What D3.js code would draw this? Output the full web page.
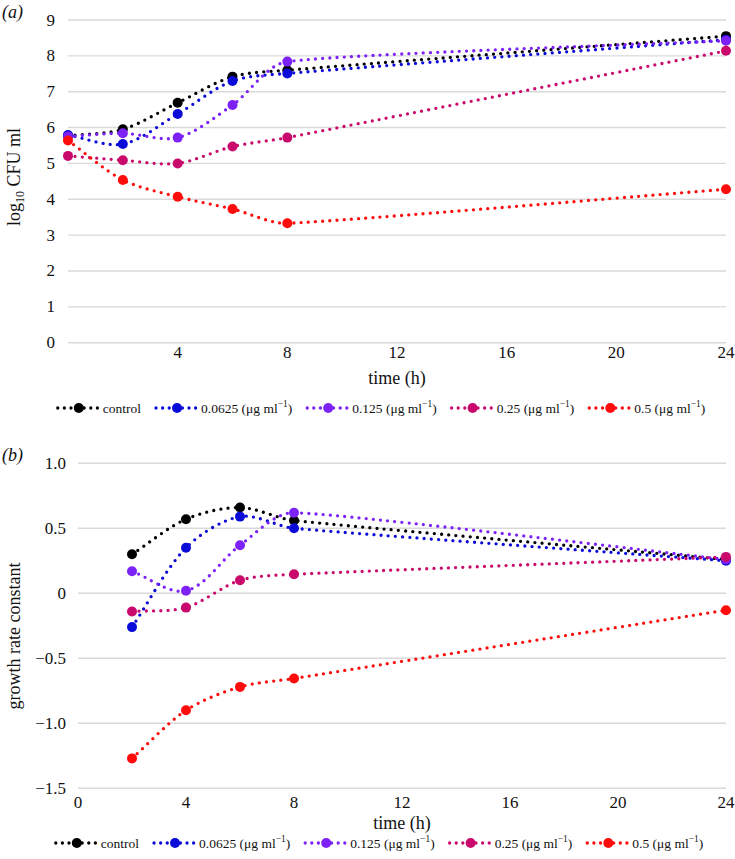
<!DOCTYPE html>
<html><head><meta charset="utf-8">
<script src="https://cdn.jsdelivr.net/npm/d3@7"></script>
<style>body{margin:0;background:#fff}</style>
</head><body><svg id="c" width="735" height="859" font-family="'Liberation Serif', 'DejaVu Serif', serif"></svg>
<script>
// ---------- data ----------
const seriesLabels = ["control", "0.0625", "0.125", "0.25", "0.5"];
const seriesColors = ["#000000", "#0b0bd9", "#7d22f7", "#c90a6c", "#ff0b0b"];

const timesA = [0, 2, 4, 6, 8, 24];
const controlA = [5.77, 5.95, 6.69, 7.42, 7.60, 8.55];
const c0625A   = [5.79, 5.54, 6.38, 7.30, 7.51, 8.45];
const c125A    = [5.75, 5.84, 5.72, 6.63, 7.84, 8.42];
const c25A     = [5.21, 5.09, 5.00, 5.47, 5.72, 8.14];
const c5A      = [5.64, 4.54, 4.07, 3.73, 3.33, 4.28];

const timesB = [2, 4, 6, 8, 24];
const controlB = [0.30, 0.57, 0.66, 0.56, 0.26];
const c0625B   = [-0.26, 0.35, 0.59, 0.50, 0.25];
const c125B    = [0.17, 0.02, 0.37, 0.62, 0.26];
const c25B     = [-0.14, -0.11, 0.10, 0.146, 0.28];
const c5B      = [-1.27, -0.90, -0.72, -0.655, -0.13];

const xTicksA = [4, 8, 12, 16, 20, 24];
const yTicksA = [0, 1, 2, 3, 4, 5, 6, 7, 8, 9];
const xTicksB = [0, 4, 8, 12, 16, 20, 24];
const yTicksB = [1.0, 0.5, 0, -0.5, -1.0, -1.5];
const yTickLabelsB = ["1.0", "0.5", "0", "\u22120.5", "\u22121.0", "\u22121.5"];

const seriesA = [controlA, c0625A, c125A, c25A, c5A];
const seriesB = [controlB, c0625B, c125B, c25B, c5B];

// ---------- drawing ----------
const svg = d3.select("#c");
const DASH = "0 7.2", SW = 3.3, R = 5;

// smooth spreadsheet-style curve through pixel points
function smoothPath(p) {
  const path = d3.path();
  const n = p.length;
  const unit = (a, b) => { const dx = b[0] - a[0], dy = b[1] - a[1], l = Math.hypot(dx, dy) || 1; return [dx / l, dy / l]; };
  const tang = p.map((q, i) => unit(p[Math.max(0, i - 1)], p[Math.min(n - 1, i + 1)]));
  path.moveTo(p[0][0], p[0][1]);
  for (let i = 0; i < n - 1; i++) {
    const a = p[i], b = p[i + 1];
    const d = Math.min(Math.hypot(b[0] - a[0], b[1] - a[1]) * 0.3, 60);
    path.bezierCurveTo(a[0] + tang[i][0] * d, a[1] + tang[i][1] * d,
                       b[0] - tang[i + 1][0] * d, b[1] - tang[i + 1][1] * d, b[0], b[1]);
  }
  return path.toString();
}

function panel(o) {
  const g = svg.append("g").attr("fill", "#111");
  const x = d3.scaleLinear().domain([0, 24]).range([o.x0, o.x1]);
  const y = d3.scaleLinear().domain(o.yDomain).range([o.yBottom, o.yTop]);
  g.selectAll(".grid").data(o.yTicks).join("line")
    .attr("x1", o.x0).attr("x2", o.x1)
    .attr("y1", d => y(d)).attr("y2", d => y(d))
    .attr("stroke", "#d9d9d9").attr("stroke-width", 1.4);
  g.selectAll(".yl").data(o.yTicks).join("text")
    .attr("x", o.yLabelX).attr("y", d => y(d) + 5.5)
    .attr("text-anchor", "end").attr("font-size", 17)
    .text((d, i) => o.yLabels ? o.yLabels[i] : d);
  g.selectAll(".xl").data(o.xTicks).join("text")
    .attr("x", d => x(d)).attr("y", o.xLabelY)
    .attr("text-anchor", "middle").attr("font-size", 17)
    .text(d => d);
  g.append("text").attr("x", x(12)).attr("y", o.xTitleY)
    .attr("text-anchor", "middle").attr("font-size", 18).text("time (h)");
  o.series.forEach((vals, i) => {
    const pts = o.times.map((t, j) => [t, vals[j]]);
    g.append("path").attr("d", smoothPath(pts.map(d => [x(d[0]), y(d[1])]))).attr("fill", "none")
      .attr("stroke", seriesColors[i]).attr("stroke-width", SW)
      .attr("stroke-dasharray", DASH).attr("stroke-linecap", "round");
    g.selectAll(null).data(pts).join("circle")
      .attr("cx", d => x(d[0])).attr("cy", d => y(d[1])).attr("r", R)
      .attr("fill", seriesColors[i]);
  });
  const lg = g.append("g");
  let cx = 0;
  seriesLabels.forEach((lab, i) => {
    const it = lg.append("g").attr("transform", `translate(${cx},0)`);
    it.append("line").attr("x1", 1).attr("x2", 41).attr("y1", 0).attr("y2", 0)
      .attr("stroke", seriesColors[i]).attr("stroke-width", SW)
      .attr("stroke-dasharray", "0 6.6").attr("stroke-linecap", "round");
    it.append("circle").attr("cx", 22).attr("cy", 0).attr("r", R).attr("fill", seriesColors[i]);
    const t = it.append("text").attr("x", 46).attr("y", 5).attr("font-size", o.legendFont);
    t.append("tspan").text(i === 0 ? lab : lab + " (\u03bcg ml");
    if (i > 0) {
      t.append("tspan").attr("font-size", o.legendFont * 0.7).attr("dy", -6).text("\u22121");
      t.append("tspan").attr("dy", 6).text(")");
    }
    cx += 46 + t.node().getComputedTextLength() + o.legendGap;
  });
  const w = cx - o.legendGap;
  lg.attr("transform", `translate(${o.legendCenter - w / 2},${o.legendY})`);
  const yt = g.append("text").attr("transform", `translate(${o.yTitleX},${o.yTitleY}) rotate(-90)`)
    .attr("text-anchor", "middle").attr("font-size", 18);
  o.yTitle(yt);
  g.append("text").attr("x", 2).attr("y", o.panelY).attr("font-size", 18)
    .attr("font-style", "italic").text(o.panel);
}

panel({
  x0: 68, x1: 726, yDomain: [0, 9], yBottom: 342.7, yTop: 20,
  yTicks: yTicksA, xTicks: xTicksA, yLabelX: 55, xLabelY: 358, xTitleY: 384,
  times: timesA, series: seriesA, legendY: 408, legendCenter: 381, legendFont: 13.5, legendGap: 14,
  yTitleX: 20, yTitleY: 177, panelY: 18, panel: "(a)",
  yTitle: t => { t.append("tspan").text("log"); t.append("tspan").attr("font-size", 12).attr("dy", 4).text("10");
                 t.append("tspan").attr("dy", -4).text(" CFU ml"); }
});

panel({
  x0: 78, x1: 726, yDomain: [-1.5, 1], yBottom: 788.3, yTop: 463.3,
  yTicks: yTicksB, yLabels: yTickLabelsB, xTicks: xTicksB, yLabelX: 66, xLabelY: 808, xTitleY: 829,
  times: timesB, series: seriesB, legendY: 843, legendCenter: 379, legendFont: 13.5, legendGap: 14,
  yTitleX: 20, yTitleY: 636, panelY: 461, panel: "(b)",
  yTitle: t => t.text("growth rate constant")
});
</script></body></html>
